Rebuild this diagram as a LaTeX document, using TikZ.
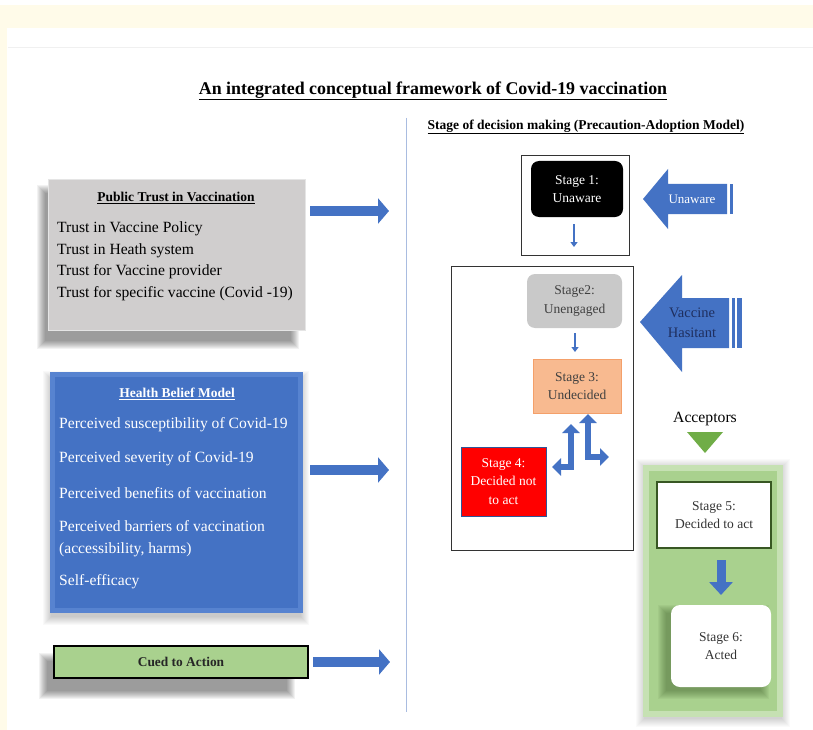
\documentclass[tikz,border=0pt]{standalone}
\usepackage{fontspec}
\setmainfont{Liberation Serif}
\usetikzlibrary{arrows.meta,calc}
\definecolor{creambg}{HTML}{FFFBE9}
\definecolor{hblue}{HTML}{4472C4}
\definecolor{hbluelight}{HTML}{5783D0}
\definecolor{boxgray}{HTML}{D0CECE}
\definecolor{divblue}{HTML}{A9BCE0}
\definecolor{stgray}{HTML}{C9C9C9}
\definecolor{sttext}{HTML}{404040}
\definecolor{salmon}{HTML}{F8BA90}
\definecolor{orangeb}{HTML}{F4A06A}
\definecolor{redbox}{HTML}{FF0000}
\definecolor{redborder}{HTML}{2F5597}
\definecolor{gpanel}{HTML}{A9D18E}
\definecolor{gpanellight}{HTML}{C6E1B3}
\definecolor{gtri}{HTML}{70AD47}
\definecolor{gdark}{HTML}{385723}
\definecolor{cuegreen}{HTML}{A9D18E}
\definecolor{navytext}{HTML}{1F2F5F}
\newcommand{\softshadow}[6]{\foreach \r in {1,...,9}{\fill[#5, opacity=#6] (#1-\r,#2-\r) rectangle (#3+\r,#4+\r);}}
\begin{document}
\begin{tikzpicture}[x=1pt,y=-1pt,
  itemtxt/.style={font=\fontsize{15.6}{17}\selectfont, anchor=west, inner sep=0pt},
  headtxt/.style={font=\bfseries\fontsize{13.5}{16}\selectfont, inner sep=0pt},
  stagetxt/.style={font=\fontsize{13.5}{18.5}\selectfont, align=center},
  bigarrow/.style={line width=10.5pt, draw=hblue, -{Triangle[length=11pt,width=25pt]}},
  smallarrow/.style={line width=2pt, draw=hblue, -{Triangle[length=5pt,width=7pt]}},
  bentarrow/.style={line width=6pt, draw=hblue, {Triangle[length=9pt,width=17pt]}-{Triangle[length=9pt,width=17pt]}},
  boxnode/.style={anchor=north west, inner sep=0pt, outer sep=0pt},
]
\useasboundingbox (0,0) rectangle (813,730);
\fill[white] (0,0) rectangle (813,730);
\fill[creambg] (0,5) rectangle (813,28);
\fill[creambg] (0,5) rectangle (7,730);
\draw[black!6] (8,47) -- (813,47);

% title
\node[font=\bfseries\fontsize{17.9}{21}\selectfont] (title) at (433,91) {\underline{An integrated conceptual framework of Covid-19 vaccination}};

% divider
\coordinate (dtop) at (406,118);
\coordinate (dbot) at (406,712);
\draw[divblue, line width=0.8pt] (dtop) -- (dbot);

% Public trust box
\softshadow{46}{194}{290}{340}{black}{0.05}
\node[boxnode, fill=boxgray, draw=black!10, line width=1pt, minimum width=257pt, minimum height=150pt] (trust) at (48,180) {};
\node[headtxt] (trusthead) at (176,198) {\underline{Public Trust in Vaccination}};
\node[itemtxt] (t1) at (57,229) {Trust in Vaccine Policy};
\node[itemtxt] (t2) at (57,250.5) {Trust in Heath system};
\node[itemtxt] (t3) at (57,272) {Trust for Vaccine provider};
\node[itemtxt] (t4) at (57,293.5) {Trust for specific vaccine (Covid -19)};

% Health belief model box
\softshadow{52}{380}{300}{616}{black}{0.025}
\node[boxnode, fill=hbluelight, minimum width=253pt, minimum height=241pt] (hbm) at (50,372) {};
\fill[hblue] ($(hbm.north west)+(5,5)$) rectangle ($(hbm.south east)+(-5,-5)$);
\node[headtxt, text=white] (hbmhead) at (177,394) {\underline{Health Belief Model}};
\node[itemtxt, text=white] (h1) at (59,425) {Perceived susceptibility of Covid-19};
\node[itemtxt, text=white] (h2) at (59,459) {Perceived severity of Covid-19};
\node[itemtxt, text=white] (h3) at (59,493) {Perceived benefits of vaccination};
\node[itemtxt, text=white] (h4) at (59,526) {Perceived barriers of vaccination};
\node[itemtxt, text=white] (h5) at (59,549.5) {(accessibility, harms)};
\node[itemtxt, text=white] (h6) at (59,582) {Self-efficacy};

% Cued to action
\softshadow{48}{662}{286}{690}{black}{0.05}
\node[boxnode, fill=cuegreen, draw=black, line width=1.6pt, minimum width=254pt, minimum height=32pt] (cue) at (54,646) {};
\node[font=\bfseries\fontsize{13.4}{16}\selectfont, text=black!85] (cuetxt) at (181,662) {Cued to Action};

% left arrows
\coordinate (a1s) at (310,211); \coordinate (a1e) at (389,211);
\coordinate (a2s) at (310,470); \coordinate (a2e) at (389,470);
\coordinate (a3s) at (313,662); \coordinate (a3e) at (390,662);
\draw[bigarrow] (a1s) -- (a1e);
\draw[bigarrow] (a2s) -- (a2e);
\draw[bigarrow] (a3s) -- (a3e);

% right title
\node[font=\bfseries\fontsize{13.5}{16}\selectfont] (rtitle) at (586,127) {\underline{Stage of decision making (Precaution-Adoption Model)}};

% stage 1
\node[boxnode, draw=black!80, line width=1pt, minimum width=108pt, minimum height=99pt] (box1) at (521,156) {};
\node[fill=black, rounded corners=8pt, minimum width=92pt, minimum height=56pt, text=white, stagetxt] (s1) at (577,189) {Stage 1:\\Unaware};
\coordinate (s1a) at (574,224); \coordinate (s1b) at (574,247);
\draw[smallarrow] (s1a) -- (s1b);

% unaware arrow
\fill[hblue] (643,199) -- (668,169) -- (668,184) -- (727,184) -- (727,214) -- (668,214) -- (668,229) -- cycle;
\fill[hblue] (729.5,184) rectangle (733,214);
\node[text=white, font=\fontsize{13}{15}\selectfont] (unaware) at (692,199) {Unaware};

% box 2
\node[boxnode, draw=black!80, line width=1pt, minimum width=182pt, minimum height=284pt] (box2) at (451,266) {};
\node[fill=stgray, rounded corners=8pt, minimum width=95pt, minimum height=54pt, text=sttext, stagetxt] (s2) at (574.5,301) {Stage2:\\Unengaged};
\coordinate (s2a) at (575,333); \coordinate (s2b) at (575,352);
\draw[smallarrow] (s2a) -- (s2b);
\node[fill=salmon, draw=orangeb, line width=0.8pt, minimum width=88pt, minimum height=54pt, text=sttext, stagetxt] (s3) at (577,386) {Stage 3:\\Undecided};
\node[fill=redbox, draw=redborder, line width=0.8pt, minimum width=85pt, minimum height=69pt, text=white, stagetxt, inner sep=1pt] (s4) at (503.5,481.5) {Stage 4:\\Decided not\\to act};
\coordinate (b1a) at (571,424); \coordinate (b1b) at (552,467);
\coordinate (b2a) at (588,414); \coordinate (b2b) at (609,457);
\draw[bentarrow] (b1a) |- (b1b);
\draw[bentarrow] (b2a) |- (b2b);

% vaccine hesitant arrow
\fill[hblue] (640,322) -- (682,275) -- (682,298) -- (729,298) -- (729,348) -- (682,348) -- (682,372) -- cycle;
\fill[hblue] (731.5,298) rectangle (734.5,348);
\fill[hblue] (737,298) rectangle (741.5,348);
\node[text=navytext, align=center, font=\fontsize{14.5}{20}\selectfont] (hes) at (692,323) {Vaccine\\Hasitant};

% acceptors
\node[font=\fontsize{15.7}{18}\selectfont] (acc) at (705,419) {Acceptors};
\fill[gtri] (687,432) -- (723,432) -- (705,453) -- cycle;

% green panel
\softshadow{645}{468}{781}{718}{black}{0.02}
\node[boxnode, fill=gpanellight, minimum width=140pt, minimum height=252pt] (panel) at (643,465) {};
\fill[gpanel] ($(panel.north west)+(6,6)$) rectangle ($(panel.south east)+(-6,-6)$);
\node[boxnode, fill=white, draw=gdark, line width=2.5pt, minimum width=114pt, minimum height=66pt] (s5box) at (657,482) {};
\node[stagetxt, text=black!80] (s5) at (714,515) {Stage 5:\\Decided to act};
\coordinate (s5a) at (721,560); \coordinate (s5b) at (721,595);
\draw[line width=9pt, draw=hblue, -{Triangle[length=13pt,width=23pt]}] (s5a) -- (s5b);
\softshadow{667}{614}{760}{690}{gdark}{0.06}
\node[fill=white, rounded corners=9pt, minimum width=100pt, minimum height=82pt, stagetxt, text=black!80] (s6) at (721,646) {Stage 6:\\Acted};
\end{tikzpicture}
\end{document}
